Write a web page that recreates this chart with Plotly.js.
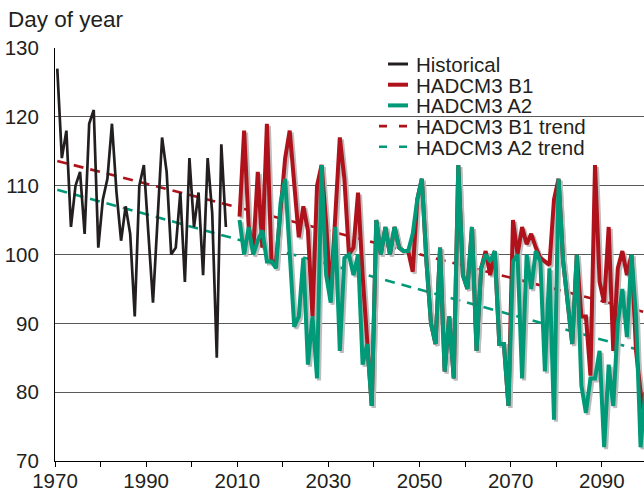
<!DOCTYPE html>
<html>
<head>
<meta charset="utf-8">
<script src="https://cdn.plot.ly/plotly-3.0.1.min.js"></script>
<style>
  html, body { margin: 0; padding: 0; background: #fff; }
  #chart { width: 644px; height: 492px; }
</style>
</head>
<body>
<div id="chart"></div>
<script>
// ---------------- DATA ----------------
const histStartYear = 1970;
const historical = [127,114,118,104,110,112,103,119,121,101,108,111,119,109,102,107,103,91,110,113,
                    103,93,105,117,112,100,101,109,96,114,104,109,97,114,106,85,116,104];

const projStartYear = 2010;
const hadcm3B1 = [105.5,118,104,100.5,112,101,119,99,99,107,
                  114,118,110,102.5,107,103.5,91,110,113,104.5,
                  94,105,117,111,100,101,109,97,87,78,
                  105,100,104,100,104,101,100.5,100.5,97.5,108,
                  111,99,90,87,101,83,91,82,113,97,
                  95,104,86,98,100.5,97,100.5,87,87,78,
                  105,100,104,101.5,103,101,99.5,99,98.5,108,
                  111,99,93,87,100,91,91,82.4,113,96,
                  93,104,86,98,100.5,97,100,86,80,76];
const hadcm3A2 = [105,100,104,100,102,103.5,99,99,98,107.5,
                  111,100,89.5,91,99.5,84,91,82,113,97,
                  93,104,86,99.5,100,97,100,84,87,78,
                  105,100,104,100,104,101,100.5,100.5,103,108,
                  111,99,90,87,101,83,91,82,113,97,
                  95,104,86,98,100,99,100.5,87,87,78,
                  99,100,82,100,95,100.5,99,83,98,76,
                  111,99,93,87,100,81,77,82,82,86,
                  72,84,78,90,95,88,100,91,72,80];

const trendYears = [1970, 2099];
const b1Trend = [113.6, 91.6];
const a2Trend = [109.4, 85.9];

const xTickYears  = [1970,1980,1990,2000,2010,2020,2030,2040,2050,2060,2070,2080,2090];
const xTickLabels = ['1970','','1990','','2010','','2030','','2050','','2070','','2090'];
const yTickValues = [70,80,90,100,110,120,130];

const seriesNames = ['Historical','HADCM3 B1','HADCM3 A2','HADCM3 B1 trend','HADCM3 A2 trend'];

// ---------------- STYLE ----------------
const FONT = 'Liberation Sans, Arial, Helvetica, sans-serif';
const TEXT = '#231F20';
const BLACK = '#231F20', RED = '#B0121B', GREEN = '#009A78', SHADOW = '#BDBDBD';
const W = 644, H = 492;
const M = {l: 55, r: 0, t: 48, b: 31};
const xRange = [1970, 2099.25];
const yRange = [70, 130];
const pw = W - M.l - M.r, ph = H - M.t - M.b;
const pxPerYear = pw / (xRange[1] - xRange[0]);
const pxPerUnit = ph / (yRange[1] - yRange[0]);
const shadowDx = 2, shadowDy = 2;
const xShadowRange = [xRange[0] - shadowDx / pxPerYear, xRange[1] - shadowDx / pxPerYear];
const yShadowRange = [yRange[0] + shadowDy / pxPerUnit, yRange[1] + shadowDy / pxPerUnit];

// annual values are plotted at mid-year
const mid = y => y + 0.5;
const yearsFrom = (start, n) => Array.from({length: n}, (_, i) => mid(start + i));
const histX = yearsFrom(histStartYear, historical.length);
const projX = yearsFrom(projStartYear, hadcm3B1.length);
const trendX = trendYears.map(mid);

const traces = [
  {x: trendX, y: b1Trend, mode: 'lines', name: seriesNames[3], line: {color: RED, width: 2.6, dash: '10px,7px'}},
  {x: trendX, y: a2Trend, mode: 'lines', name: seriesNames[4], line: {color: GREEN, width: 2.6, dash: '10px,7px'}},
  {x: histX, y: historical, mode: 'lines', name: seriesNames[0], line: {color: BLACK, width: 2.7}},
  {x: projX, y: hadcm3B1, mode: 'lines', xaxis: 'x2', yaxis: 'y2', hoverinfo: 'skip', line: {color: SHADOW, width: 4}},
  {x: projX, y: hadcm3A2, mode: 'lines', xaxis: 'x2', yaxis: 'y2', hoverinfo: 'skip', line: {color: SHADOW, width: 4}},
  {x: projX, y: hadcm3B1, mode: 'lines', name: seriesNames[1], xaxis: 'x3', yaxis: 'y3', line: {color: RED, width: 4}},
  {x: projX, y: hadcm3A2, mode: 'lines', name: seriesNames[2], xaxis: 'x3', yaxis: 'y3', line: {color: GREEN, width: 4}}
];

// ---------------- LEGEND (drawn manually for exact spacing) ----------------
const px2x = px => (px - M.l) / pw;
const px2y = py => (H - M.b - py) / ph;
const legendEntries = [
  {name: seriesNames[0], color: BLACK, width: 3, dash: 'solid'},
  {name: seriesNames[1], color: RED, width: 4, dash: 'solid'},
  {name: seriesNames[2], color: GREEN, width: 4, dash: 'solid'},
  {name: seriesNames[3], color: RED, width: 2.6, dash: '8px,12px'},
  {name: seriesNames[4], color: GREEN, width: 2.6, dash: '8px,12px'}
];
const legendTop = 64, legendStep = 20.7;
const shapes = [
  {type: 'rect', xref: 'paper', yref: 'paper', layer: 'between',
   x0: px2x(349), x1: px2x(632), y0: px2y(160), y1: 1.01,
   fillcolor: '#ffffff', line: {width: 0}}
];
const annotations = [];
legendEntries.forEach((e, i) => {
  const py = legendTop + i * legendStep;
  const solid = e.dash === 'solid';
  shapes.push({type: 'line', xref: 'paper', yref: 'paper', layer: 'above',
    x0: px2x(solid ? 388 : 379), x1: px2x(408), y0: px2y(py), y1: px2y(py),
    line: {color: e.color, width: e.width, dash: e.dash}});
  annotations.push({xref: 'paper', yref: 'paper', x: px2x(415), y: px2y(py),
    xanchor: 'left', yanchor: 'middle', showarrow: false, text: e.name,
    borderpad: 0, height: 20, valign: 'middle',
    font: {family: FONT, size: 20.5, color: TEXT}});
});

const layout = {
  width: W, height: H,
  margin: M,
  paper_bgcolor: '#ffffff', plot_bgcolor: '#ffffff',
  showlegend: false,
  font: {family: FONT, size: 20.5, color: TEXT},
  title: {text: 'Day of year', font: {family: FONT, size: 22.5, color: TEXT},
          xref: 'container', x: 8 / W, xanchor: 'left',
          yref: 'container', y: 1 - 19 / H, yanchor: 'middle'},
  xaxis: {range: xRange, tickmode: 'array', tickvals: xTickYears, ticktext: xTickLabels,
          ticks: 'outside', ticklen: 5, tickwidth: 1, tickcolor: '#000',
          showline: true, linecolor: '#000', linewidth: 1,
          showgrid: false, zeroline: false, fixedrange: true,
          ticklabelstandoff: -4,
          tickfont: {family: FONT, size: 20.5, color: TEXT}},
  yaxis: {range: yRange, tickmode: 'array', tickvals: yTickValues,
          ticks: '', showline: true, linecolor: '#000', linewidth: 1,
          showgrid: true, gridcolor: '#5a5a5a', gridwidth: 1,
          zeroline: false, fixedrange: true, ticklabelstandoff: 11,
          tickfont: {family: FONT, size: 20.5, color: TEXT}},
  xaxis2: {overlaying: 'x', range: xShadowRange, visible: false, fixedrange: true},
  yaxis2: {overlaying: 'y', range: yShadowRange, visible: false, fixedrange: true},
  xaxis3: {overlaying: 'x', range: xRange, visible: false, fixedrange: true},
  yaxis3: {overlaying: 'y', range: yRange, visible: false, fixedrange: true},
  shapes: shapes,
  annotations: annotations
};

Plotly.newPlot('chart', traces, layout, {staticPlot: true, displayModeBar: false});
</script>
</body>
</html>
